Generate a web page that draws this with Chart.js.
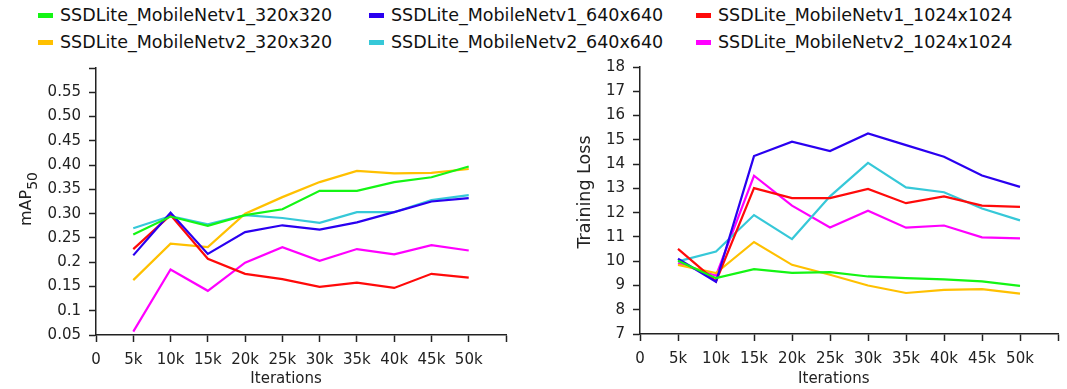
<!DOCTYPE html>
<html>
<head>
<meta charset="utf-8">
<script src="https://cdn.jsdelivr.net/npm/chart.js"></script>
<style>
  body { margin: 0; background: #fff; width: 1067px; height: 389px; overflow: hidden; font-family: "DejaVu Sans", Verdana, sans-serif; }
  #legend { position: absolute; left: 0; top: 0; width: 1067px; height: 55px; }
  .item { position: absolute; display: flex; align-items: center; font-size: 17.5px; color: #111; white-space: nowrap; }
  .item i { display: inline-block; width: 15px; height: 5px; margin-right: 7px; }
  .box { position: absolute; top: 50px; }
</style>
</head>
<body>
<div id="legend"></div>
<div class="box" style="left:0"><canvas id="mapChart" width="533" height="339"></canvas></div>
<div class="box" style="left:533px"><canvas id="lossChart" width="534" height="339"></canvas></div>
<script>
// iterations (x values) and tick labels
const iterations = [5000, 10000, 15000, 20000, 25000, 30000, 35000, 40000, 45000, 50000];
const xTickLabels = ['0', '5k', '10k', '15k', '20k', '25k', '30k', '35k', '40k', '45k', '50k', ''];
const mapTickLabels = ['0.05', '0.1', '0.15', '0.2', '0.25', '0.30', '0.35', '0.40', '0.45', '0.50', '0.55', ''];

const seriesNames = [
  'SSDLite_MobileNetv1_320x320', 'SSDLite_MobileNetv1_640x640', 'SSDLite_MobileNetv1_1024x1024',
  'SSDLite_MobileNetv2_320x320', 'SSDLite_MobileNetv2_640x640', 'SSDLite_MobileNetv2_1024x1024'
];
const seriesColors = ['#14f514', '#2a00f0', '#ff0a0a', '#ffc000', '#36c8d8', '#ff00ff'];

// mAP50
const mapV1_320  = [0.257, 0.294, 0.275, 0.297, 0.309, 0.347, 0.347, 0.365, 0.375, 0.397];
const mapV1_640  = [0.214, 0.302, 0.217, 0.262, 0.276, 0.267, 0.282, 0.303, 0.325, 0.332];
const mapV1_1024 = [0.227, 0.297, 0.207, 0.176, 0.165, 0.149, 0.158, 0.147, 0.176, 0.168];
const mapV2_320  = [0.163, 0.238, 0.231, 0.300, 0.334, 0.365, 0.388, 0.383, 0.384, 0.392];
const mapV2_640  = [0.270, 0.295, 0.278, 0.297, 0.291, 0.281, 0.303, 0.303, 0.328, 0.338];
const mapV2_1024 = [0.057, 0.185, 0.141, 0.199, 0.231, 0.203, 0.227, 0.216, 0.235, 0.224];

// training loss
const lossV1_320  = [10.02, 9.30, 9.67, 9.52, 9.55, 9.37, 9.30, 9.25, 9.17, 8.98];
const lossV1_640  = [10.10, 9.15, 14.33, 14.92, 14.54, 15.26, 14.78, 14.30, 13.53, 13.06];
const lossV1_1024 = [10.51, 9.17, 13.01, 12.60, 12.60, 12.98, 12.39, 12.67, 12.29, 12.24];
const lossV2_320  = [9.85, 9.51, 10.79, 9.85, 9.44, 9.00, 8.69, 8.82, 8.85, 8.66];
const lossV2_640  = [9.99, 10.40, 11.90, 10.91, 12.67, 14.05, 13.04, 12.84, 12.17, 11.68];
const lossV2_1024 = [9.92, 9.40, 13.52, 12.29, 11.39, 12.08, 11.38, 11.47, 10.98, 10.94];

const mapSeries = [mapV1_320, mapV1_640, mapV1_1024, mapV2_320, mapV2_640, mapV2_1024];
const lossSeries = [lossV1_320, lossV1_640, lossV1_1024, lossV2_320, lossV2_640, lossV2_1024];

// shared legend (2 rows x 3 columns)
const legendCols = [38, 369, 696];
const legendRows = [15, 42];
const legend = document.getElementById('legend');
seriesNames.forEach((name, i) => {
  const el = document.createElement('div');
  el.className = 'item';
  el.style.left = legendCols[i % 3] + 'px';
  el.style.top = (legendRows[Math.floor(i / 3)] - 11) + 'px';
  el.style.height = '22px';
  el.innerHTML = '<i style="background:' + seriesColors[i] + '"></i>' + name;
  legend.appendChild(el);
});

const ink = '#222';
const tickFont = { family: '"DejaVu Sans"', size: 15 };

// axis titles drawn by hand so mAP can have a subscript
const axisTitles = {
  id: 'axisTitles',
  afterDraw(chart, args, opts) {
    const { ctx, scales: { x, y } } = chart;
    ctx.save();
    ctx.fillStyle = ink;
    ctx.textBaseline = 'middle';
    ctx.textAlign = 'center';
    ctx.font = '15px "DejaVu Sans"';
    ctx.fillText('Iterations', x.getPixelForValue(25500), opts.xTitleY);

    ctx.translate(opts.yTitleX, opts.yTitleY);
    ctx.rotate(-Math.PI / 2);
    ctx.textAlign = 'left';
    ctx.font = opts.yFont + 'px "DejaVu Sans"';
    const w1 = ctx.measureText(opts.yText).width;
    let w2 = 0;
    if (opts.ySub) {
      ctx.font = '14px "DejaVu Sans"';
      w2 = ctx.measureText(opts.ySub).width;
    }
    const start = -(w1 + w2) / 2;
    ctx.font = opts.yFont + 'px "DejaVu Sans"';
    ctx.fillText(opts.yText, start, 0);
    if (opts.ySub) {
      ctx.font = '14px "DejaVu Sans"';
      ctx.fillText(opts.ySub, start + w1, 6);
    }
    ctx.restore();
  }
};

function makeDatasets(series) {
  return series.map((vals, i) => ({
    label: seriesNames[i],
    data: vals.map((v, j) => ({ x: iterations[j], y: v })),
    borderColor: seriesColors[i],
    backgroundColor: seriesColors[i],
    borderWidth: 2.2,
    pointRadius: 0,
    tension: 0,
    fill: false
  }));
}

function axisGrid() {
  return { drawOnChartArea: false, drawTicks: true, tickLength: 7, tickColor: ink, tickWidth: 1.5 };
}

function makeChart(id, series, yOpts, pad, xHeight, yWidth, titles) {
  return new Chart(document.getElementById(id), {
    type: 'line',
    data: { datasets: makeDatasets(series) },
    plugins: [axisTitles],
    options: {
      responsive: false,
      animation: false,
      devicePixelRatio: 1,
      layout: { padding: pad },
      plugins: { legend: { display: false }, tooltip: { enabled: false }, axisTitles: titles },
      scales: {
        x: {
          type: 'linear', min: 0, max: 55000,
          border: { display: true, color: ink, width: 1.5 },
          grid: axisGrid(),
          ticks: { stepSize: 5000, autoSkip: false, maxRotation: 0, color: ink, font: tickFont, padding: 9,
                   callback: (v, i) => xTickLabels[i] },
          afterFit: s => { s.height = xHeight; }
        },
        y: Object.assign({
          border: { display: true, color: ink, width: 1.5 },
          grid: axisGrid(),
          afterFit: s => { s.width = yWidth; }
        }, yOpts)
      }
    }
  });
}

makeChart('mapChart', mapSeries, {
  min: 0.05, max: 0.60,
  ticks: { stepSize: 0.05, autoSkip: false, color: ink, font: tickFont, padding: 8,
           callback: (v, i) => mapTickLabels[i] }
}, { top: 18, right: 27, left: 0, bottom: 0 }, 54, 96,
{ xTitleY: 329, yTitleX: 27, yTitleY: 149, yText: 'mAP', ySub: '50', yFont: 16 });

makeChart('lossChart', lossSeries, {
  min: 7, max: 18,
  ticks: { stepSize: 1, autoSkip: false, color: ink, font: tickFont, padding: 8 }
}, { top: 17, right: 8, left: 0, bottom: 0 }, 55, 107,
{ xTitleY: 329, yTitleX: 52, yTitleY: 142, yText: 'Training Loss', ySub: '', yFont: 17.5 });
</script>
</body>
</html>
